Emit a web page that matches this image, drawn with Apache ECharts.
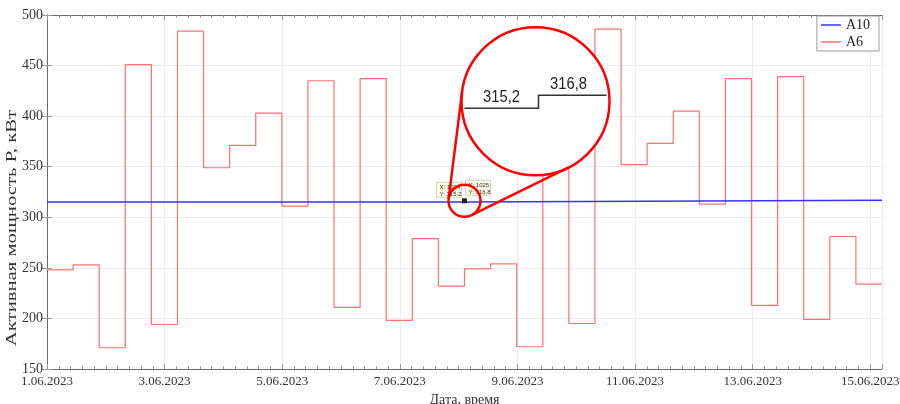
<!DOCTYPE html>
<html>
  <head>
    <meta charset="utf-8">
    <script src="https://cdn.jsdelivr.net/npm/echarts@6/dist/echarts.min.js"></script>
  </head>
  <body style="margin:0">
    <div id="chart" style="width:900px;height:404px;"></div>
    <script>
      // A6: one value per interval, 32 intervals over the period
      var a6Values = [248, 253, 171, 451, 194, 484, 349, 371, 403, 311, 435, 211, 437, 198, 279, 232,
                      249, 254, 172, 352, 195, 486, 352, 373, 405, 313, 437, 213, 439, 199, 281, 234];
      // A10: two levels, switch in the middle
      var a10Values = [315.2, 316.8];
      var a10Starts = [0, 7.1];
      var periodDays = 14.2;
      var tickLabels = ['1.06.2023', '3.06.2023', '5.06.2023', '7.06.2023', '9.06.2023',
                        '11.06.2023', '13.06.2023', '15.06.2023'];
      var zoomLabels = ['315,2', '316,8'];

      var serif = '"Liberation Serif", "Times New Roman", serif';
      var segDays = periodDays / a6Values.length;

      var a6Data = a6Values.map(function (v, i) { return [i * segDays, v]; });
      a6Data.push([periodDays, a6Values[a6Values.length - 1]]);
      var a10Data = a10Values.map(function (v, i) { return [a10Starts[i], v]; });
      a10Data.push([periodDays, a10Values[a10Values.length - 1]]);

      function xLabel(v) {
        var i = v / 2;
        return Number.isInteger(i) && tickLabels[i] ? tickLabels[i] : '';
      }

      var axisLine = { show: true, lineStyle: { color: '#6b6b6b', width: 1 } };
      var tick = { show: true, inside: true, length: 5, lineStyle: { color: '#9a9a9a' } };
      var minor = { show: true, splitNumber: 10, length: 3, lineStyle: { color: '#9a9a9a' } };
      var grid = { show: true, lineStyle: { color: '#ececec', width: 1 } };

      var chart = echarts.init(document.getElementById('chart'));
      chart.setOption({
        animation: false,
        backgroundColor: '#fff',
        grid: { left: 47, right: 18, top: 15, bottom: 35, containLabel: false, outerBoundsMode: 'none' },
        legend: {
          orient: 'vertical', right: 21, top: 16,
          data: ['A10', 'A6'],
          icon: 'rect',
          itemWidth: 20, itemHeight: 1.5, itemGap: 3,
          padding: [2, 9, 2, 4],
          borderColor: '#9a9a9a', borderWidth: 1, backgroundColor: '#fff',
          textStyle: { fontFamily: serif, fontSize: 14, color: '#222' }
        },
        xAxis: [{
          type: 'value', min: 0, max: periodDays, interval: 2,
          axisLine: axisLine, axisTick: tick, minorTick: minor, splitLine: grid,
          axisLabel: { formatter: xLabel, fontFamily: serif, fontSize: 13, color: '#333', margin: 6, showMaxLabel: false },
          name: 'Дата, время', nameLocation: 'middle', nameGap: 22,
          nameTextStyle: { fontFamily: serif, fontSize: 14, color: '#333' }
        }, {
          type: 'value', position: 'top', min: 0, max: periodDays, interval: 2,
          axisLine: axisLine, axisTick: tick, minorTick: minor, splitLine: { show: false },
          axisLabel: { show: false }
        }],
        yAxis: [{
          type: 'value', min: 150, max: 500, interval: 50,
          axisLine: axisLine, axisTick: tick, splitLine: grid,
          axisLabel: { fontFamily: serif, fontSize: 14, color: '#333', margin: 4 }
        }, {
          type: 'value', position: 'right', min: 150, max: 500, interval: 50,
          axisLine: axisLine, axisTick: tick, splitLine: { show: false },
          axisLabel: { show: false }
        }],
        series: [{
          name: 'A10', type: 'line', step: 'end', data: a10Data,
          symbol: 'none', lineStyle: { color: '#3434ff', width: 1.5 }, itemStyle: { color: '#3434ff' }, z: 3
        }, {
          name: 'A6', type: 'line', step: 'end', data: a6Data,
          symbol: 'none', lineStyle: { color: '#ff7070', width: 1.2 }, itemStyle: { color: '#ff7070' }, z: 2
        }]
      });

      // magnifier callout anchored on the A10 step
      var p = chart.convertToPixel({ xAxisIndex: 0, yAxisIndex: 0 }, [a10Starts[1], a10Values[1]]);
      var c1 = [p[0], p[1] + 0.5], r1 = 16;
      var c2 = [p[0] + 71, p[1] - 99], r2 = 74;

      function tangents() {
        var dx = c2[0] - c1[0], dy = c2[1] - c1[1];
        var d = Math.sqrt(dx * dx + dy * dy);
        var base = Math.atan2(dy, dx), a = Math.acos((r1 - r2) / d);
        return [base + a, base - a].map(function (t) {
          return {
            type: 'line', z: 62,
            shape: { x1: c1[0] + r1 * Math.cos(t), y1: c1[1] + r1 * Math.sin(t),
                     x2: c2[0] + r2 * Math.cos(t), y2: c2[1] + r2 * Math.sin(t) },
            style: { stroke: '#ff0000', lineWidth: 2.5 }
          };
        });
      }

      function tip(x, y, lines) {
        return {
          type: 'group', x: x, y: y, z: 50,
          children: [
            { type: 'rect', z: 50, shape: { x: 0, y: 0, width: 25, height: 15 },
              style: { fill: '#fdfbe6', stroke: '#c8c8b4', lineWidth: 0.8 } },
            { type: 'text', z: 51, style: { x: 3, y: 2, text: lines.join('\n'), font: '6px "Liberation Sans"', fill: '#333', lineHeight: 6.5 } }
          ]
        };
      }

      var tipTextOld = ['X: 1024', 'Y: ' + a10Values[0].toFixed(1)];
      var tipTextNew = ['X: 1025', 'Y: ' + a10Values[1].toFixed(1)];

      function zoomText(dx, dy, text) {
        return { type: 'text', z: 64, x: c2[0] + dx, y: c2[1] + dy, scaleX: 0.92,
          style: { x: 0, y: 0, text: text, font: '16px "Liberation Sans"', fill: '#222', align: 'center', verticalAlign: 'middle' } };
      }

      var elements = [
        tip(p[0] - 28, p[1] - 18, tipTextOld),
        tip(p[0] + 1, p[1] - 20, tipTextNew),
        { type: 'rect', z: 55, shape: { x: p[0] - 2.5, y: p[1] - 2, width: 5, height: 5 }, style: { fill: '#222' } },
        { type: 'circle', z: 60, shape: { cx: c2[0], cy: c2[1], r: r2 }, style: { fill: '#fff', stroke: '#ff0000', lineWidth: 2.5 } },
        { type: 'circle', z: 61, shape: { cx: c1[0], cy: c1[1], r: r1 }, style: { fill: null, stroke: '#ff0000', lineWidth: 2.5 } },
        { type: 'polyline', z: 63,
          shape: { points: [[c2[0] - 71, c2[1] + 7], [c2[0] + 3, c2[1] + 7], [c2[0] + 3, c2[1] - 6], [c2[0] + 71, c2[1] - 6]] },
          style: { stroke: '#333', lineWidth: 1.5, fill: null } },
        zoomText(-34, -4, zoomLabels[0]),
        zoomText(33, -17, zoomLabels[1]),
        // y axis title (stretched along its length like the source figure)
        { type: 'text', z: 10, x: 12.5, y: 228, rotation: Math.PI / 2, scaleX: 1.38,
          style: { x: 0, y: 0, text: 'Активная мощность P, кВт', font: '15px ' + serif, fill: '#333', align: 'center', verticalAlign: 'middle' } }
      ].concat(tangents());

      chart.setOption({ graphic: { elements: elements } });
    </script>
  </body>
</html>
